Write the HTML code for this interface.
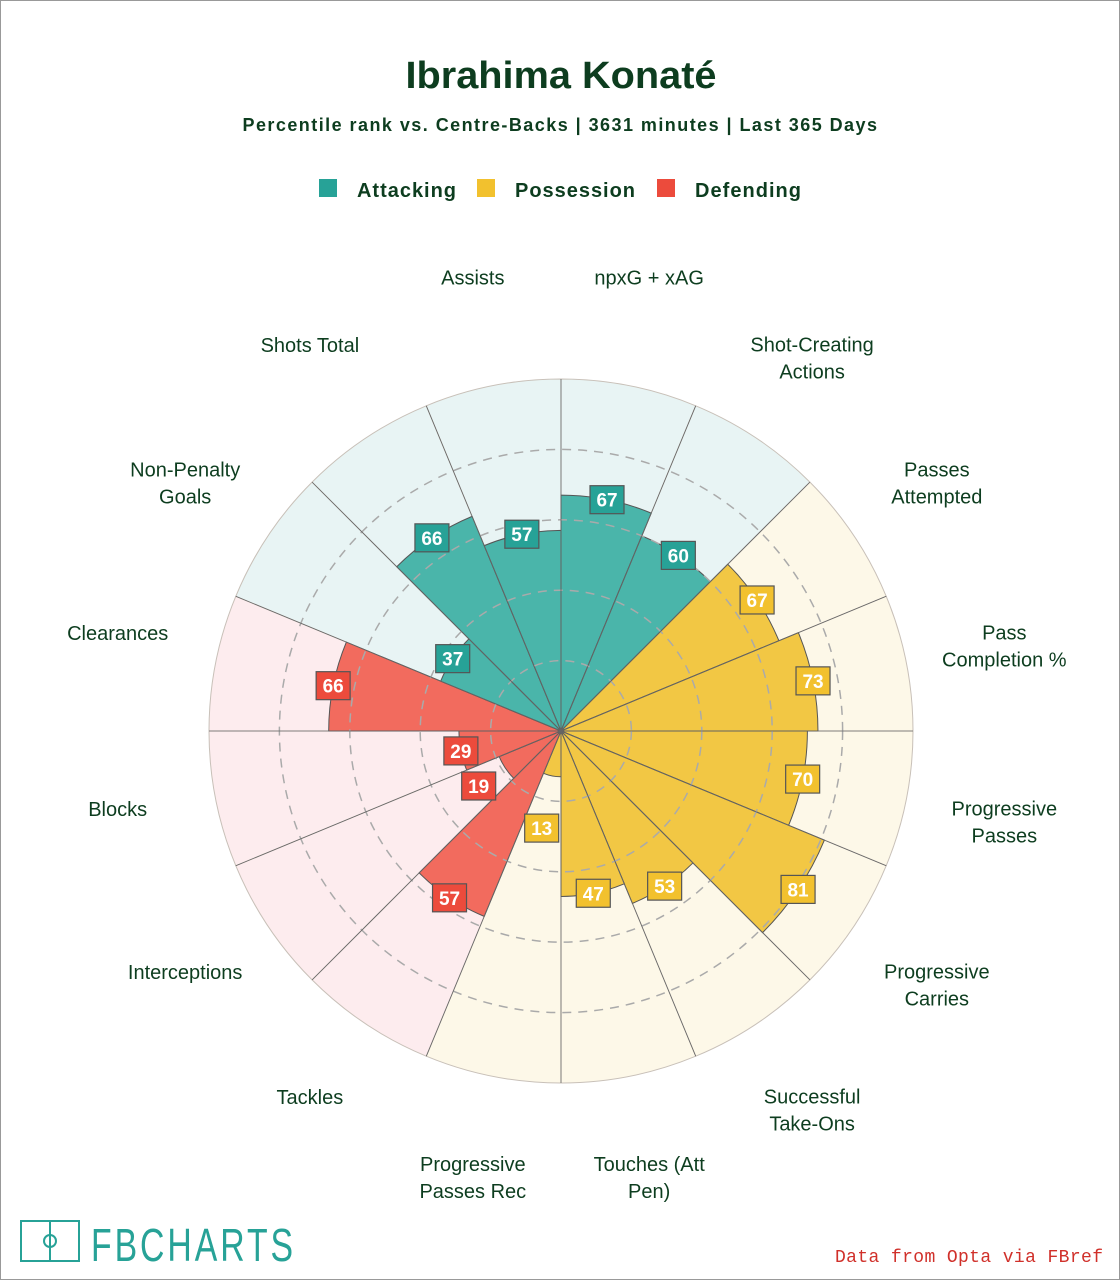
<!DOCTYPE html>
<html><head><meta charset="utf-8">
<style>
body{margin:0;background:#fff;}
#wrap{position:relative;width:1118px;height:1278px;border:1px solid #999;background:#fff;overflow:hidden;font-family:"Liberation Sans",sans-serif;}
svg text{font-family:"Liberation Sans",sans-serif;}
</style></head>
<body>
<div id="wrap">
<svg id="chart" width="1118" height="1278">
<text x="560" y="87" text-anchor="middle" font-size="38" font-weight="bold" fill="#0d3d1f" textLength="311" lengthAdjust="spacingAndGlyphs">Ibrahima Konaté</text>
<text x="559" y="130" text-anchor="middle" font-size="18" font-weight="bold" fill="#0d3d1f" textLength="635" letter-spacing="0.5">Percentile rank vs. Centre-Backs | 3631 minutes | Last 365 Days</text>
<g>
<rect x="318" y="178" width="18" height="18" fill="#27a297"/>
<text x="356" y="196" font-size="20" font-weight="bold" fill="#0d3d1f" textLength="99">Attacking</text>
<rect x="476" y="178" width="18" height="18" fill="#f2c12e"/>
<text x="514" y="196" font-size="20" font-weight="bold" fill="#0d3d1f" textLength="120">Possession</text>
<rect x="656" y="178" width="18" height="18" fill="#ec4b3c"/>
<text x="694" y="196" font-size="20" font-weight="bold" fill="#0d3d1f" textLength="106">Defending</text>
</g>
<g id="plot"></g>
<g>
<rect x="20" y="1220" width="58" height="40" fill="none" stroke="#27a297" stroke-width="2"/>
<line x1="49" y1="1220" x2="49" y2="1260" stroke="#27a297" stroke-width="2"/>
<circle cx="49" cy="1240" r="6" fill="none" stroke="#27a297" stroke-width="2"/>
<text x="90" y="1260" font-size="46" fill="#27a297" letter-spacing="4" textLength="205" lengthAdjust="spacingAndGlyphs">FBCHARTS</text>
</g>
<text x="1102" y="1261" text-anchor="end" font-size="18" fill="#d0302a" textLength="268" style="font-family:'Liberation Mono',monospace">Data from Opta via FBref</text>
</svg>
</div>
<script>
const labels=[["npxG + xAG"],["Shot-Creating","Actions"],["Passes","Attempted"],["Pass","Completion %"],["Progressive","Passes"],["Progressive","Carries"],["Successful","Take-Ons"],["Touches (Att","Pen)"],["Progressive","Passes Rec"],["Tackles"],["Interceptions"],["Blocks"],["Clearances"],["Non-Penalty","Goals"],["Shots Total"],["Assists"]];
const values=[67,60,67,73,70,81,53,47,13,57,19,29,66,37,66,57];
const groups=["att","att","pos","pos","pos","pos","pos","pos","pos","def","def","def","def","att","att","att"];
const ticks=[20,40,60,80];
const cx=560,cy=730,R=352,ns="http://www.w3.org/2000/svg";
const bg={att:"#e8f4f4",pos:"#fdf8e8",def:"#fdecee"};
const fillc={att:"#4ab5aa",pos:"#f2c744",def:"#f26b5e"};
const boxc={att:"#27a297",pos:"#f2c12e",def:"#ec4b3c"};
const rs=v=>v/100*R;
const pt=(a,r)=>[cx+Math.sin(a*Math.PI/180)*r,cy-Math.cos(a*Math.PI/180)*r];
const g=document.getElementById('plot');
function el(t,a){const e=document.createElementNS(ns,t);for(const k in a)e.setAttribute(k,a[k]);g.appendChild(e);return e;}
function wedge(a0,a1,r){const p0=pt(a0,r),p1=pt(a1,r);return `M${cx},${cy}L${p0[0]},${p0[1]}A${r},${r} 0 0 1 ${p1[0]},${p1[1]}Z`;}
const n=values.length,step=360/n;
values.forEach((v,i)=>{const e=el('path',{d:wedge(i*step,(i+1)*step,R),fill:bg[groups[i]],stroke:"#c8c0b8","stroke-width":1});

});
values.forEach((v,i)=>{const e=el('path',{d:wedge(i*step,(i+1)*step,rs(v)),fill:fillc[groups[i]],stroke:"#555","stroke-width":1});

});
ticks.forEach(t=>{const e=el('circle',{cx:cx,cy:cy,r:rs(t),fill:"none",stroke:"#aaa","stroke-width":1.5,"stroke-dasharray":"9,7"});

});
values.forEach((v,i)=>{const p=pt(i*step,R);const e=el('line',{x1:cx,y1:cy,x2:p[0],y2:p[1],stroke:"#666","stroke-width":0.8});

});
values.forEach((v,i)=>{const a=(i+0.5)*step;const p=pt(a,Math.max(rs(v),99));
const b=el('rect',{x:p[0]-17,y:p[1]-14,width:34,height:28,fill:boxc[groups[i]],stroke:"#555","stroke-width":1.2});


const t=el('text',{x:p[0],y:p[1]+7,"text-anchor":"middle","font-size":19,"font-weight":"bold",fill:"#fff"});t.textContent=v;


const q=pt(a,452);const L=labels[i];
const y0=L.length>1?q[1]+10-13.5:q[1]-3;
const tl=el('text',{x:q[0],y:y0,"text-anchor":"middle","font-size":20,fill:"#0d3d1f"});
L.forEach((s,j)=>{const ts=document.createElementNS(ns,'tspan');ts.setAttribute('x',q[0]);ts.setAttribute('dy',j?27:0);ts.textContent=s;tl.appendChild(ts);});

});
</script>
</body></html>
